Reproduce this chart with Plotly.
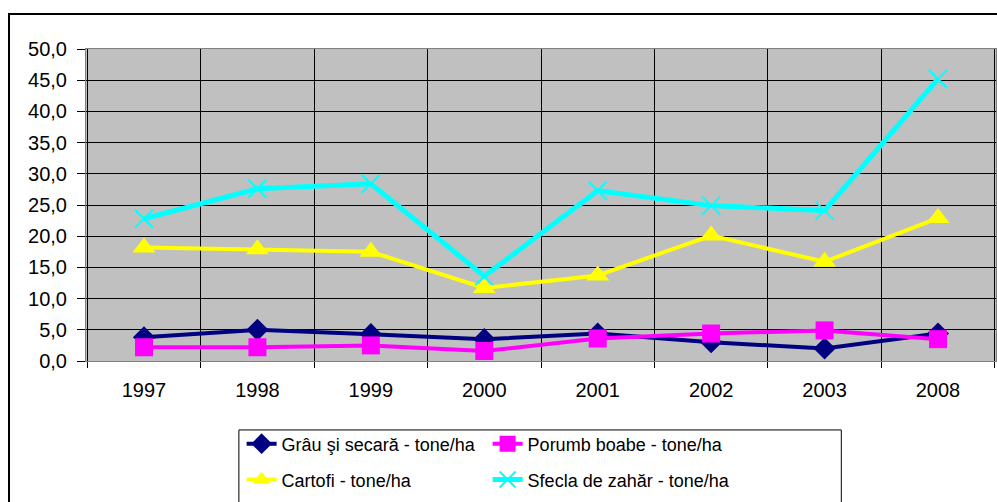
import plotly.graph_objects as go

years = ["1997", "1998", "1999", "2000", "2001", "2002", "2003", "2008"]

grau = [3.8, 5.0, 4.3, 3.5, 4.4, 3.0, 2.0, 4.4]
porumb = [2.2, 2.2, 2.5, 1.6, 3.6, 4.4, 4.9, 3.5]
cartofi = [18.2, 17.9, 17.5, 11.7, 13.7, 20.1, 15.9, 22.9]
sfecla = [22.8, 27.6, 28.4, 13.6, 27.3, 24.9, 24.1, 45.2]

# name, values, colour, symbol, marker size, line width, legend row
series = [
    ("Grâu şi secară - tone/ha", grau, "#000080", "diamond", 17, 4, "legend"),
    ("Porumb boabe - tone/ha", porumb, "#FF00FF", "square", 18, 4, "legend"),
    ("Cartofi - tone/ha", cartofi, "#FFFF00", "triangle-up", 20, 4, "legend2"),
    ("Sfecla de zahăr - tone/ha", sfecla, "#00FFFF", "x-thin", 18, 5, "legend2"),
]

fig = go.Figure()
for name, vals, col, sym, size, lw, leg in series:
    marker = dict(symbol=sym, size=size, color=col)
    if sym == "x-thin":
        marker["line"] = dict(color=col, width=2)
    fig.add_trace(go.Scatter(
        x=years, y=vals, name=name, mode="lines+markers",
        line=dict(color=col, width=lw), marker=marker, legend=leg,
    ))

# outer chart border (cut off at right/bottom)
fig.add_shape(type="rect", xref="paper", yref="paper",
              x0=-0.0846, x1=1.2, y0=-0.8, y1=1.112,
              line=dict(color="black", width=2), layer="below")
# legend box
fig.add_shape(type="rect", xref="paper", yref="paper",
              x0=0.168, x1=0.830, y0=-0.6, y1=-0.221,
              line=dict(color="black", width=1), layer="below")

leg_common = dict(
    orientation="h", x=0.171, xanchor="left", yanchor="middle",
    entrywidth=201, entrywidthmode="pixels",
    bgcolor="rgba(0,0,0,0)", borderwidth=0,
    font=dict(size=18),
)

fig.update_layout(
    width=997, height=502,
    margin=dict(l=86, r=1, t=49, b=141),
    paper_bgcolor="white",
    plot_bgcolor="#C0C0C0",
    separators=", ",
    font=dict(family="Liberation Sans, Arial", size=18, color="black"),
    showlegend=True,
    legend=dict(y=-0.266, **leg_common),
    legend2=dict(y=-0.381, **leg_common),
)
fig.update_xaxes(
    type="category", tickson="boundaries",
    showgrid=True, gridcolor="black", gridwidth=1,
    ticks="outside", ticklen=6, tickcolor="black",
    showline=True, linecolor="#808080", mirror=True,
    tickfont=dict(size=20), ticklabelstandoff=11,
)
fig.update_yaxes(
    range=[0, 50], dtick=5, tickformat=".1f",
    showgrid=True, gridcolor="black", gridwidth=1,
    ticks="outside", ticklen=8, tickcolor="black",
    showline=True, linecolor="#808080", mirror=True,
    zeroline=False, tickfont=dict(size=20), ticklabelstandoff=6,
)

# drop the default page margin so the 997x502 figure fills the window exactly
fig.write_html("out.html", config={"displayModeBar": False},
               post_script="document.body.style.margin='0';")
